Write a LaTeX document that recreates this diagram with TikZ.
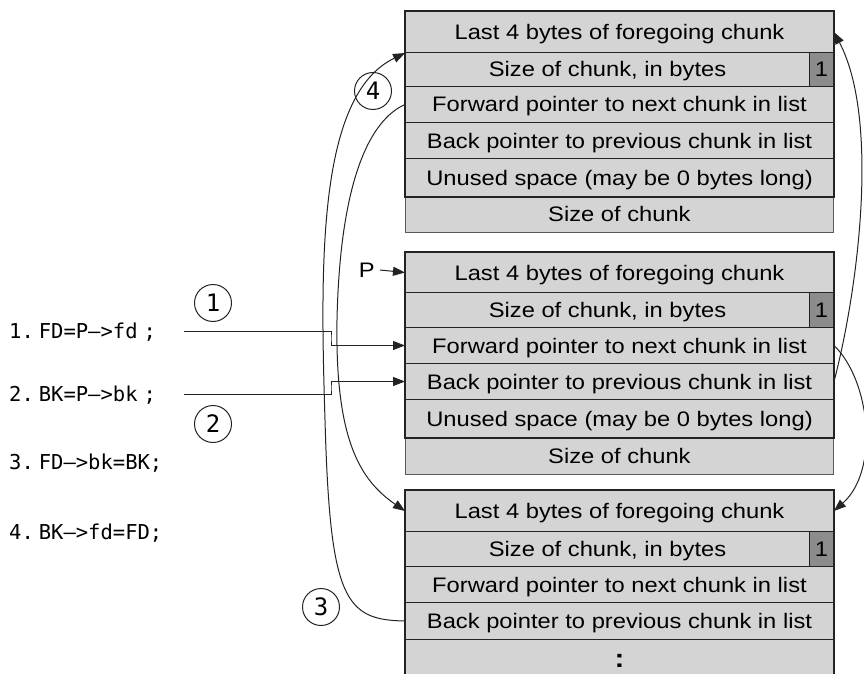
\documentclass[tikz,border=0pt]{standalone}
\usepackage{fontspec}
\setmainfont[FakeStretch=1.13]{Liberation Sans}
\newfontfamily\codefont{DejaVu Sans Mono}
\usetikzlibrary{arrows.meta}
\definecolor{rowgray}{RGB}{212,212,212}
\definecolor{bitgray}{RGB}{140,140,140}
\definecolor{linec}{RGB}{35,35,35}
\definecolor{lastc}{RGB}{90,90,90}
\begin{document}
\begin{tikzpicture}[x=1pt,y=-1pt,
  rowbox/.style={draw=linec, line width=1pt, fill=rowgray, rectangle, minimum width=428pt,
    inner sep=0pt, text height=15pt, text depth=0pt, font=\fontsize{21}{24}\selectfont, anchor=north west},
  lastrow/.style={rowbox, draw=lastc, line width=0.8pt},
  bitbox/.style={rowbox, fill=bitgray, minimum width=24pt},
  outline/.style={draw=linec, line width=2pt},
  codeline/.style={anchor=west, inner sep=0pt, text height=14pt, text depth=0pt,
    font=\codefont\fontsize{20.5}{22}\selectfont},
  circ/.style={circle, draw=linec, line width=1pt, minimum size=37pt, inner sep=0pt,
    text height=17pt, text depth=0pt, font=\codefont\fontsize{24}{24}\selectfont},
  conn/.style={draw=linec, line width=1pt},
  arr/.style={-{Triangle[length=12pt,width=9pt]}}
]
\useasboundingbox (0,0) rectangle (864,674);

% ---------- block 1 ----------
\node[lastrow, minimum height=36pt] (b1r6) at (405,196) {Size of chunk};
\node[rowbox, minimum height=41pt] (b1r1) at (405,11) {Last 4 bytes of foregoing chunk};
\node[rowbox, minimum width=404pt, minimum height=34pt] (b1r2) at (405,52) {Size of chunk, in bytes};
\node[bitbox, minimum height=34pt] (b1b) at (809,52) {1};
\node[rowbox, minimum height=36pt] (b1r3) at (405,86) {Forward pointer to next chunk in list};
\node[rowbox, minimum height=36pt] (b1r4) at (405,122) {Back pointer to previous chunk in list};
\node[rowbox, minimum height=38pt] (b1r5) at (405,158) {Unused space (may be 0 bytes long)};
\draw[outline] (b1r1.north west) rectangle (b1r5.south east);

% ---------- block 2 ----------
\node[lastrow, minimum height=37pt] (b2r6) at (405,437) {Size of chunk};
\node[rowbox, minimum height=40pt] (b2r1) at (405,252) {Last 4 bytes of foregoing chunk};
\node[rowbox, minimum width=404pt, minimum height=35pt] (b2r2) at (405,292) {Size of chunk, in bytes};
\node[bitbox, minimum height=35pt] (b2b) at (809,292) {1};
\node[rowbox, minimum height=36pt] (b2r3) at (405,327) {Forward pointer to next chunk in list};
\node[rowbox, minimum height=36pt] (b2r4) at (405,363) {Back pointer to previous chunk in list};
\node[rowbox, minimum height=38pt] (b2r5) at (405,399) {Unused space (may be 0 bytes long)};
\draw[outline] (b2r1.north west) rectangle (b2r5.south east);

% ---------- block 3 ----------
\node[rowbox, minimum height=41pt] (b3r1) at (405,490) {Last 4 bytes of foregoing chunk};
\node[rowbox, minimum width=404pt, minimum height=35pt] (b3r2) at (405,531) {Size of chunk, in bytes};
\node[bitbox, minimum height=35pt] (b3b) at (809,531) {1};
\node[rowbox, minimum height=36pt] (b3r3) at (405,566) {Forward pointer to next chunk in list};
\node[rowbox, minimum height=37pt] (b3r4) at (405,602) {Back pointer to previous chunk in list};
\node[rowbox, minimum height=42pt, text height=13pt, font=\fontsize{26}{28}\selectfont\bfseries] (b3r5) at (405,639) {:};
\draw[outline] (b3r1.north west) rectangle (b3r5.south east);

% ---------- P label ----------
\node[anchor=east, inner xsep=5pt, inner ysep=0pt, text height=15pt, text depth=0pt,
  font=\fontsize{21}{24}\selectfont] (P) at (380,270) {P};
\draw[conn,arr] (P.east) -- (b2r1.west);

% ---------- code lines ----------
\node[codeline] (c1) at (9,331) {1.\hspace{5pt}FD=P–>fd\hspace{6pt};};
\node[codeline] (c2) at (9,394) {2.\hspace{5pt}BK=P–>bk\hspace{6pt};};
\node[codeline] (c3) at (9,462) {3.\hspace{5pt}FD–>bk=BK;};
\node[codeline] (c4) at (9,532) {4.\hspace{5pt}BK–>fd=FD;};

% ---------- circled numbers ----------
\node[circ] (n1) at (213,303) {1};
\node[circ] (n2) at (213,424) {2};
\node[circ] (n3) at (321,607) {3};
\node[circ] (n4) at (373,91) {4};

% ---------- step 1 and 2 connectors ----------
\coordinate (s1) at (184,0);
\coordinate (j1) at (331,338);
\coordinate (j2) at (331,388);
\draw[conn,arr] (c1.east -| s1) -| (j1) |- (b2r3.west);
\draw[conn,arr] (c2.east -| s1) -| (j2) |- (b2r4.west);

% ---------- step 3: FD->bk = BK ----------
\draw[conn,arr] (b3r4.west) .. controls (345,620) and (330,600) .. (325,420)
  .. controls (320,260) and (318,95) .. (b1r1.south west);

% ---------- step 4: BK->fd = FD ----------
\draw[conn,arr] (b1r3.west) .. controls (370,120) and (340,180) .. (337,320)
  .. controls (335,440) and (360,480) .. (b3r1.west);

% ---------- right side pointers ----------
\draw[conn,arr] (b2r4.east) .. controls (858,290) and (880,120) .. (b1r1.east);
\draw[conn,arr] (b2r3.east) .. controls (870,380) and (880,470) .. (b3r1.east);
\end{tikzpicture}
\end{document}
